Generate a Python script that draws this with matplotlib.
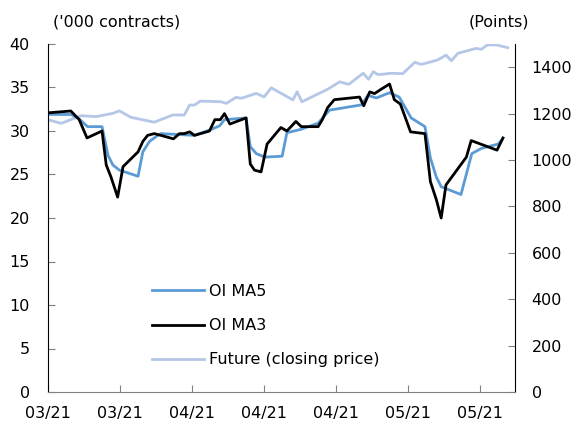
import matplotlib
matplotlib.use("Agg")
import matplotlib.pyplot as plt

# x positions are calendar days from the first observation
ma3_day = [0.2, 3.8, 5.2, 6.5, 9.0, 9.7, 10.5, 11.6, 12.5, 15.0, 15.8, 16.6, 17.7,
           18.8, 20.9, 21.9, 22.7, 23.6, 24.4, 26.9, 27.8, 28.7, 29.4, 30.3, 33.0,
           33.7, 34.4, 35.5, 36.5, 38.8, 39.8, 41.3, 42.2, 45.0, 45.7, 46.6, 47.7,
           51.9, 52.6, 53.6, 54.4, 55.5, 56.9, 57.7, 58.7, 60.4, 62.8, 63.7, 64.7,
           65.5, 66.3, 69.7, 70.5, 74.8, 75.8]
ma3_oi = [32.1, 32.3, 31.3, 29.2, 30.0, 26.1, 24.7, 22.4, 25.9, 27.6, 28.8, 29.5, 29.7,
          29.5, 29.1, 29.7, 29.7, 29.9, 29.5, 30.0, 31.3, 31.3, 32.0, 30.8, 31.5,
          26.2, 25.5, 25.3, 28.5, 30.4, 30.0, 31.1, 30.5, 30.5, 31.3, 32.7, 33.6,
          33.9, 32.9, 34.5, 34.3, 34.8, 35.4, 33.6, 33.1, 29.9, 29.7, 24.2, 22.1,
          20.0, 23.8, 27.0, 28.9, 27.8, 29.2]

ma5_day = [0.2, 3.8, 5.0, 6.6, 9.0, 10.0, 10.8, 11.9, 15.0, 15.8, 16.9, 18.3, 18.8,
           24.4, 26.9, 28.6, 29.4, 33.0, 33.7, 34.7, 36.1, 39.0, 39.8, 42.2, 45.0,
           46.9, 52.2, 53.3, 54.7, 56.9, 58.5, 60.5, 62.8, 63.7, 64.7, 65.5, 68.8,
           70.6, 72.2, 75.0, 75.6]
ma5_oi = [31.9, 31.9, 31.5, 30.5, 30.5, 27.2, 26.1, 25.5, 24.8, 27.6, 28.8, 29.5, 29.7,
          29.5, 30.1, 30.6, 31.3, 31.5, 28.2, 27.4, 27.0, 27.1, 29.8, 30.2, 30.9,
          32.4, 33.0, 34.1, 33.8, 34.4, 33.9, 31.5, 30.5, 26.9, 24.7, 23.6, 22.7,
          27.4, 28.0, 28.5, 29.0]

fut_day = [0.2, 2.2, 5.5, 8.0, 10.8, 11.9, 13.8, 17.7, 20.8, 22.7, 23.6, 24.4, 25.4,
           28.8, 29.7, 31.3, 32.2, 34.7, 36.0, 37.2, 40.8, 41.5, 42.3, 46.6, 48.6,
           50.1, 52.5, 53.4, 54.2, 54.9, 55.5, 57.2, 59.1, 61.1, 62.2, 64.9, 66.3,
           67.2, 68.3, 71.3, 72.2, 73.2, 74.7, 76.6]
fut_close = [1172, 1158, 1191, 1187, 1201, 1212, 1184, 1163, 1194, 1194, 1237, 1237, 1254,
             1251, 1244, 1270, 1266, 1287, 1272, 1311, 1259, 1294, 1251, 1305, 1337,
             1326, 1374, 1348, 1381, 1369, 1369, 1374, 1372, 1421, 1412, 1431, 1452,
             1428, 1460, 1481, 1477, 1496, 1496, 1484]

tick_days = [0, 12, 24, 36, 48, 60, 72]
tick_labels = ["03/21", "03/21", "04/21", "04/21", "04/21", "05/21", "05/21"]

c_ma5 = "#5b9bd5"
c_fut = "#b4c7e7"
fs = 11.5

fig = plt.figure(figsize=(5.74, 4.26), dpi=100)
ax = fig.add_axes([48 / 574, 1 - 392 / 426, 467 / 574, 348 / 426])
ax2 = ax.twinx()

l_fut, = ax2.plot(fut_day, fut_close, color=c_fut, lw=2.0, label="Future (closing price)")
l5, = ax.plot(ma5_day, ma5_oi, color=c_ma5, lw=2.0, label="OI MA5")
l3, = ax.plot(ma3_day, ma3_oi, color="black", lw=2.0, label="OI MA3")

ax.set_zorder(ax2.get_zorder() + 1)
ax.patch.set_visible(False)

ax.set_xlim(0, 77.8)
ax.set_ylim(0, 40)
ax2.set_ylim(0, 1500)
ax.set_yticks(range(0, 41, 5))
ax2.set_yticks(range(0, 1401, 200))
ax.set_xticks(tick_days)
ax.set_xticklabels(tick_labels)

for a in (ax, ax2):
    a.spines["top"].set_visible(False)
ax.spines["right"].set_visible(False)
ax.spines["bottom"].set_color("#808080")
ax2.spines["bottom"].set_visible(False)
ax2.spines["left"].set_visible(False)
ax.spines["left"].set_color("black")
ax2.spines["right"].set_color("black")

ax.tick_params(axis="y", direction="in", length=5, pad=13, labelsize=fs, color="#808080")
ax.tick_params(axis="x", direction="in", length=5, pad=10, labelsize=fs, color="#808080")
ax2.tick_params(axis="y", direction="in", length=5, pad=12, labelsize=fs, color="#808080")

fig.text(53 / 574, 1 - 22 / 426, "('000 contracts)", fontsize=fs, va="center", ha="left")
fig.text(529 / 574, 1 - 22 / 426, "(Points)", fontsize=fs, va="center", ha="right")

ax.legend([l5, l3, l_fut], ["OI MA5", "OI MA3", "Future (closing price)"],
          frameon=False, fontsize=fs, loc="upper left",
          bbox_to_anchor=(104 / 467, 108 / 348), handlelength=3.25,
          handletextpad=0.31, labelspacing=1.2, borderaxespad=0, borderpad=0)

fig.savefig("out.png", dpi=100)
